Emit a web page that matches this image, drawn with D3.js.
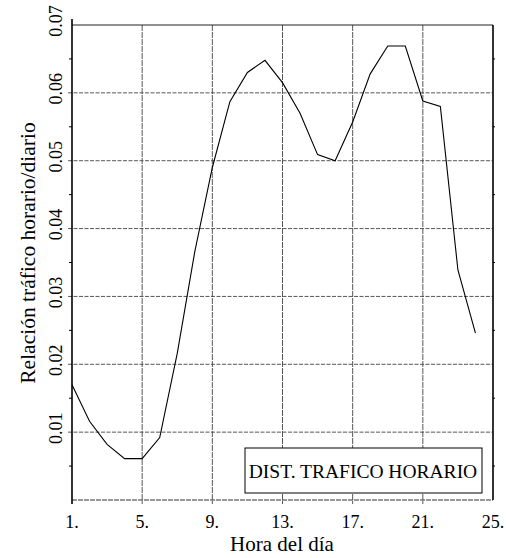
<!DOCTYPE html>
<html><head><meta charset="utf-8">
<script src="https://cdn.jsdelivr.net/npm/d3@7"></script>
<style>body{margin:0;background:#fff}svg{display:block}</style>
</head><body>
<script>
const hours = [1,2,3,4,5,6,7,8,9,10,11,12,13,14,15,16,17,18,19,20,21,22,23,24];
const ratio = [0.0170,0.0116,0.0082,0.0061,0.0061,0.0092,0.0216,0.0366,0.0490,0.0587,0.0630,0.0648,0.0615,0.0570,0.0509,0.0500,0.0557,0.0628,0.0669,0.0669,0.0588,0.0580,0.0339,0.0246];
const xTicks = [1,5,9,13,17,21,25];
const yTicks = [0.01,0.02,0.03,0.04,0.05,0.06,0.07];
const yMinor = [0.005,0.015,0.025,0.035,0.045,0.055,0.065];
const legendText = "DIST. TRAFICO HORARIO";
const xTitle = "Hora del día";
const yTitle = "Relación tráfico horario/diario";

const W=506,H=558;
const L=72,R=493,T=25,B=500;
const svg=d3.select("body").append("svg").attr("width",W).attr("height",H)
  .style("font-family","'Liberation Serif','DejaVu Serif',serif");
const x=d3.scaleLinear().domain([1,25]).range([L,R]);
const y=d3.scaleLinear().domain([0,0.07]).range([B,T]);

// grid
svg.append("g").selectAll("line").data(yTicks.slice(0,-1)).join("line")
  .attr("x1",L-4).attr("x2",R).attr("y1",d=>y(d)).attr("y2",d=>y(d))
  .attr("stroke","#444").attr("stroke-width",0.9).attr("stroke-dasharray","4,1.5");
svg.append("g").selectAll("line").data(xTicks.slice(1,-1)).join("line")
  .attr("x1",d=>x(d)).attr("x2",d=>x(d)).attr("y1",T).attr("y2",B+4)
  .attr("stroke","#444").attr("stroke-width",0.9).attr("stroke-dasharray","6,1");
// frame
svg.append("line").attr("x1",L).attr("x2",R).attr("y1",T).attr("y2",T).attr("stroke","#222").attr("stroke-width",1);
svg.append("line").attr("x1",L).attr("x2",R).attr("y1",B).attr("y2",B).attr("stroke","#333").attr("stroke-width",1).attr("stroke-dasharray","5,1");
svg.append("line").attr("x1",L).attr("x2",L).attr("y1",T-6).attr("y2",B+4).attr("stroke","#000").attr("stroke-width",1.6);
svg.append("line").attr("x1",R).attr("x2",R).attr("y1",T).attr("y2",B).attr("stroke","#000").attr("stroke-width",1.6);
// minor ticks
svg.append("g").selectAll("line").data(yMinor).join("line")
  .attr("x1",L-3).attr("x2",L).attr("y1",d=>y(d)).attr("y2",d=>y(d)).attr("stroke","#000");
svg.append("g").selectAll("line").data(yMinor).join("line")
  .attr("x1",R).attr("x2",R+2).attr("y1",d=>y(d)).attr("y2",d=>y(d)).attr("stroke","#000");

// y tick labels (rotated)
svg.append("g").selectAll("text").data(yTicks).join("text")
  .attr("transform",d=>`translate(62,${y(d)-4}) rotate(-90)`)
  .attr("text-anchor","middle").attr("font-size",18).attr("fill","#000")
  .text(d=>d.toFixed(2));
// x tick labels
svg.append("g").selectAll("text").data(xTicks).join("text")
  .attr("x",d=>x(d)).attr("y",528).attr("text-anchor","middle").attr("font-size",18).attr("fill","#000")
  .text(d=>d+".");
// titles
svg.append("text").attr("x",282).attr("y",551).attr("text-anchor","middle").attr("font-size",21).text(xTitle);
svg.append("text").attr("transform","translate(35,253) rotate(-90)").attr("text-anchor","middle").attr("font-size",21.5).text(yTitle);

// data line
svg.append("path").datum(hours.map((h,i)=>[h,ratio[i]]))
  .attr("d",d3.line().x(d=>x(d[0])).y(d=>y(d[1])))
  .attr("fill","none").attr("stroke","#000").attr("stroke-width",1.1);

// legend
svg.append("rect").attr("x",245).attr("y",448).attr("width",237).attr("height",45)
  .attr("fill","#fff").attr("stroke","#000").attr("stroke-width",1);
svg.append("text").attr("x",363).attr("y",478).attr("text-anchor","middle").attr("font-size",19.5).text(legendText);
</script>
</body></html>
